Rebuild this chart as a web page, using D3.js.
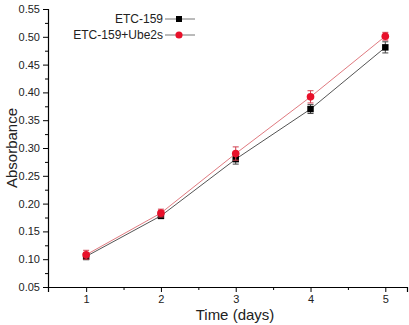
<!DOCTYPE html>
<html lang="en">
<head>
  <meta charset="UTF-8">
  <title>Absorbance over time</title>
  <script src="https://d3js.org/d3.v7.min.js"></script>
  <style>
    body { margin: 0; background: #fff; }
    svg { display: block; font-family: Arial, "Liberation Sans", sans-serif; }
  </style>
</head>
<body>
  <svg id="chart" width="409" height="325"></svg>
  <script>
    // Data
    const days = [1, 2, 3, 4, 5];
    const etc159 = [0.105, 0.178, 0.280, 0.370, 0.481];
    const etc159Err = [0.006, 0.005, 0.009, 0.008, 0.010];
    const ube2s = [0.108, 0.183, 0.290, 0.392, 0.501];
    const ube2sErr = [0.008, 0.007, 0.012, 0.011, 0.007];
    const yTicks = [0.05, 0.10, 0.15, 0.20, 0.25, 0.30, 0.35, 0.40, 0.45, 0.50, 0.55];

    const svg = d3.select("#chart");
    const x = d3.scaleLinear().domain([0.49, 5.29]).range([48, 407]);
    const y = d3.scaleLinear().domain([0.05, 0.55]).range([287, 9]);

    // Axes
    svg.append("g")
      .attr("transform", "translate(48,0)")
      .call(d3.axisLeft(y).tickValues(yTicks).tickFormat(d3.format(".2f")).tickSize(5).tickPadding(3));
    svg.append("g")
      .attr("transform", "translate(48,0)")
      .call(d3.axisLeft(y).tickValues(d3.range(0.075, 0.55, 0.05)).tickFormat("").tickSize(3))
      .select(".domain").remove();

    svg.append("g")
      .attr("transform", "translate(0,287)")
      .call(d3.axisBottom(x).tickValues(days).tickFormat(d3.format("d")).tickSize(5).tickPadding(3));
    svg.append("g")
      .attr("transform", "translate(0,287)")
      .call(d3.axisBottom(x).tickValues([1.5, 2.5, 3.5, 4.5]).tickFormat("").tickSize(3))
      .select(".domain").remove();

    svg.selectAll(".domain").attr("stroke", "#000").attr("stroke-width", 1.2);
    svg.selectAll(".tick line").attr("stroke", "#000");
    svg.selectAll(".tick text").attr("font-size", 11).attr("fill", "#222");

    // Axis titles
    svg.append("text")
      .attr("transform", "translate(17,148) rotate(-90)")
      .attr("text-anchor", "middle")
      .attr("font-size", 15)
      .attr("fill", "#222")
      .text("Absorbance");
    svg.append("text")
      .attr("x", 235).attr("y", 320)
      .attr("text-anchor", "middle")
      .attr("font-size", 15)
      .attr("fill", "#222")
      .text("Time (days)");

    // Series
    const series = [
      { name: "ETC-159", values: etc159, err: etc159Err, line: "#555", color: "#000", shape: "square", errColor: "#444" },
      { name: "ETC-159+Ube2s", values: ube2s, err: ube2sErr, line: "#e07a80", color: "#e8102a", shape: "circle", errColor: "#d04050" }
    ];

    const line = d3.line().x((d, i) => x(days[i])).y(d => y(d));

    series.forEach(s => {
      const g = svg.append("g");
      g.append("path")
        .attr("d", line(s.values))
        .attr("fill", "none")
        .attr("stroke", s.line)
        .attr("stroke-width", 1);

      const eb = g.selectAll(".err").data(s.values).enter().append("g");
      eb.append("line")
        .attr("x1", (d, i) => x(days[i])).attr("x2", (d, i) => x(days[i]))
        .attr("y1", (d, i) => y(d - s.err[i])).attr("y2", (d, i) => y(d + s.err[i]))
        .attr("stroke", s.errColor);
      [-1, 1].forEach(sign => {
        eb.append("line")
          .attr("x1", (d, i) => x(days[i]) - 3).attr("x2", (d, i) => x(days[i]) + 3)
          .attr("y1", (d, i) => y(d + sign * s.err[i])).attr("y2", (d, i) => y(d + sign * s.err[i]))
          .attr("stroke", s.errColor);
      });

      g.selectAll(".pt").data(s.values).enter()
        .append("path")
        .attr("transform", (d, i) => `translate(${x(days[i])},${y(d)})`)
        .attr("d", d3.symbol().type(s.shape === "square" ? d3.symbolSquare : d3.symbolCircle).size(s.shape === "square" ? 42 : 46))
        .attr("fill", s.color);
    });

    // Legend
    const legend = svg.append("g");
    series.forEach((s, i) => {
      const ly = 19 + i * 16;
      legend.append("text")
        .attr("x", 163).attr("y", ly + 4)
        .attr("text-anchor", "end")
        .attr("font-size", 12)
        .attr("fill", "#222")
        .text(s.name);
      legend.append("line")
        .attr("x1", 165).attr("x2", 195)
        .attr("y1", ly).attr("y2", ly)
        .attr("stroke", "#777");
      legend.append("path")
        .attr("transform", `translate(179,${ly})`)
        .attr("d", d3.symbol().type(s.shape === "square" ? d3.symbolSquare : d3.symbolCircle).size(s.shape === "square" ? 36 : 40))
        .attr("fill", s.color);
    });
  </script>
</body>
</html>
